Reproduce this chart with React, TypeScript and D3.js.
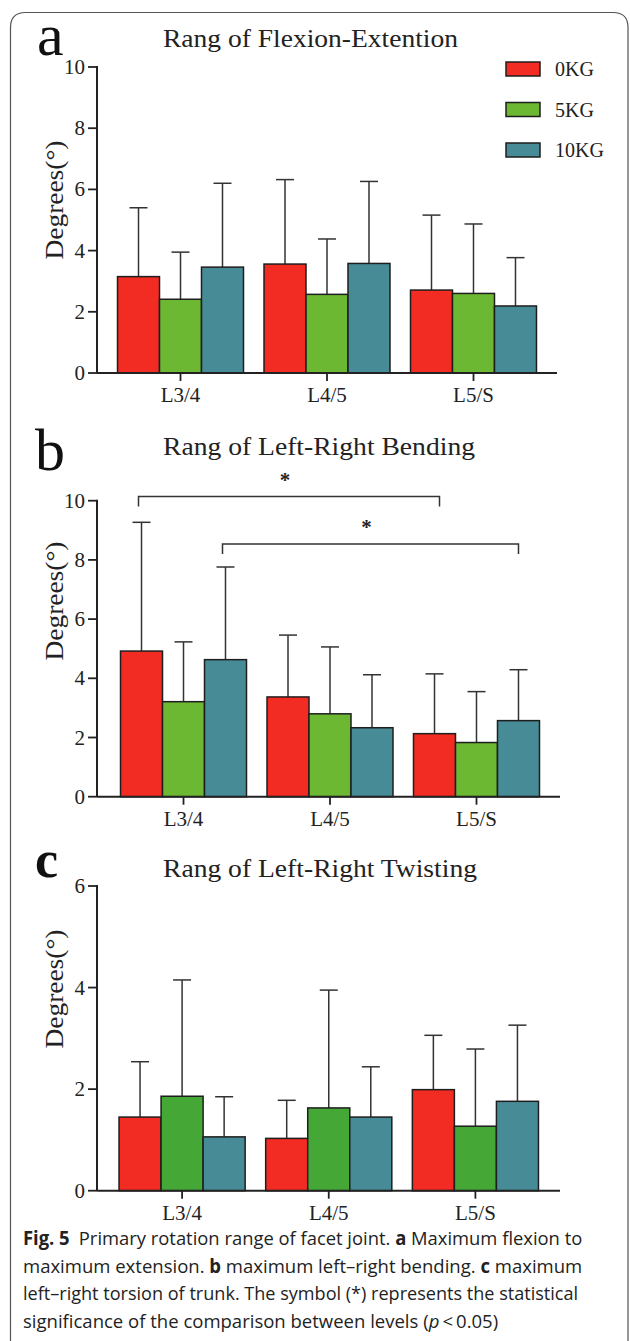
import * as d3 from "d3";
import { useLayoutEffect, useRef, useState } from "react";

const levels = ["L3/4", "L4/5", "L5/S"];
const loads = ["0KG", "5KG", "10KG"];

// means / SD per load (rows: 0KG, 5KG, 10KG), columns follow levels
const flexionMeans = [
  [3.15, 3.56, 2.71],
  [2.41, 2.57, 2.6],
  [3.46, 3.58, 2.19],
];
const flexionSD = [
  [2.25, 2.76, 2.45],
  [1.54, 1.81, 2.27],
  [2.74, 2.68, 1.58],
];
const bendingMeans = [
  [4.92, 3.37, 2.13],
  [3.21, 2.8, 1.83],
  [4.63, 2.33, 2.57],
];
const bendingSD = [
  [4.35, 2.09, 2.02],
  [2.02, 2.26, 1.72],
  [3.13, 1.79, 1.72],
];
const twistingMeans = [
  [1.45, 1.03, 1.99],
  [1.86, 1.63, 1.27],
  [1.06, 1.45, 1.76],
];
const twistingSD = [
  [1.09, 0.75, 1.07],
  [2.29, 2.32, 1.52],
  [0.79, 0.99, 1.5],
];

const ticks10 = [0, 2, 4, 6, 8, 10];
const ticks6 = [0, 2, 4, 6];
const titles = ["Rang of Flexion-Extention", "Rang of Left-Right Bending", "Rang of Left-Right Twisting"];
const bendingSig = [
  { from: ["L3/4", "0KG"], to: ["L5/S", "0KG"], level: 10.14 },
  { from: ["L3/4", "10KG"], to: ["L5/S", "10KG"], level: 8.54 },
];

const SERIF = "'Liberation Serif', 'Times New Roman', serif";
const SANS = "'Open Sans', 'Noto Sans', sans-serif";
const RED = "#f22b23";
const GREEN = "#6cb833";
const GREEN_C = "#45a836";
const TEAL = "#478b97";

const panels = [
  {
    letter: "a", letterSize: 60, letterBold: false, letterX: 37, letterY: 55,
    title: titles[0], titleY: 47, titleW: 295,
    top: 67, bottom: 373, axisEnd: 557, band: [97, 557],
    max: 10, ticks: ticks10, means: flexionMeans, sds: flexionSD,
    labelY: 200, legend: true, colors: [RED, GREEN, TEAL], sig: [],
  },
  {
    letter: "b", letterSize: 60, letterBold: false, letterX: 35, letterY: 470,
    title: titles[1], titleY: 455, titleW: 312,
    top: 500.7, bottom: 796.7, axisEnd: 560, band: [100, 560],
    max: 10, ticks: ticks10, means: bendingMeans, sds: bendingSD,
    labelY: 601, legend: false, colors: [RED, GREEN, TEAL], sig: bendingSig,
  },
  {
    letter: "c", letterSize: 52, letterBold: true, letterX: 35, letterY: 877,
    title: titles[2], titleY: 877, titleW: 314,
    top: 886, bottom: 1190.7, axisEnd: 560, band: [98.5, 559],
    max: 6, ticks: ticks6, means: twistingMeans, sds: twistingSD,
    labelY: 989, legend: false, colors: [RED, GREEN_C, TEAL], sig: [],
  },
];

function Panel({ cfg }) {
  const axisX = 97;
  const y = d3.scaleLinear().domain([0, cfg.max]).range([cfg.bottom, cfg.top]);
  const x0 = d3.scaleBand().domain(levels).range(cfg.band).paddingInner(0.14).paddingOuter(0.14);
  const x1 = d3.scaleBand().domain(loads).range([0, x0.bandwidth()]);
  const bw = x1.bandwidth();
  const center = (lv, ld) => x0(lv) + x1(ld) + bw / 2;

  return (
    <g>
      <text x={cfg.letterX} y={cfg.letterY} fontFamily={SERIF} fontSize={cfg.letterSize}
        fontWeight={cfg.letterBold ? "bold" : "normal"} fill="#111">{cfg.letter}</text>
      <text x={163} y={cfg.titleY} fontFamily={SERIF} fontSize={26} fill="#222"
        textLength={cfg.titleW} lengthAdjust="spacingAndGlyphs">{cfg.title}</text>
      <text transform={`translate(63,${cfg.labelY}) rotate(-90)`} textAnchor="middle" fontFamily={SERIF}
        fontSize={25} fill="#222" textLength={119} lengthAdjust="spacingAndGlyphs">Degrees(°)</text>

      {/* bars + error bars */}
      {loads.map((ld, si) =>
        levels.map((lv, li) => {
          const m = cfg.means[si][li];
          const sd = cfg.sds[si][li];
          const cx = center(lv, ld);
          return (
            <g key={`${ld}-${lv}`}>
              <line x1={cx} x2={cx} y1={y(m)} y2={y(m + sd)} stroke="#333" strokeWidth={1.5} />
              <line x1={cx - 9} x2={cx + 9} y1={y(m + sd)} y2={y(m + sd)} stroke="#333" strokeWidth={1.5} />
              <rect x={x0(lv) + x1(ld)} y={y(m)} width={bw} height={y(0) - y(m)}
                fill={cfg.colors[si]} stroke="#1e1e1e" strokeWidth={1.5} />
            </g>
          );
        })
      )}

      {/* y axis */}
      <line x1={axisX} x2={axisX} y1={cfg.top - 1} y2={cfg.bottom} stroke="#222" strokeWidth={2} />
      {cfg.ticks.map((t) => (
        <g key={t}>
          <line x1={axisX - 9} x2={axisX} y1={y(t)} y2={y(t)} stroke="#222" strokeWidth={1.8} />
          <text x={85} y={y(t) + 7} textAnchor="end" fontFamily={SERIF} fontSize={21} fill="#222">{t}</text>
        </g>
      ))}

      {/* x axis */}
      <line x1={axisX} x2={cfg.axisEnd} y1={cfg.bottom} y2={cfg.bottom} stroke="#222" strokeWidth={2} />
      {levels.map((lv) => {
        const cx = x0(lv) + x0.bandwidth() / 2;
        return (
          <g key={lv}>
            <line x1={cx} x2={cx} y1={cfg.bottom} y2={cfg.bottom + 8} stroke="#222" strokeWidth={1.8} />
            <text x={cx} y={cfg.bottom + 29} textAnchor="middle" fontFamily={SERIF} fontSize={21} fill="#222">{lv}</text>
          </g>
        );
      })}

      {/* significance brackets */}
      {cfg.sig.map((s, i) => {
        const xa = center(s.from[0], s.from[1]) - 3;
        const xb = center(s.to[0], s.to[1]) + (i === 0 ? 5 : 0);
        const yy = y(s.level);
        return (
          <g key={i}>
            <path d={`M${xa},${yy + 10}V${yy}H${xb}V${yy + 10}`} fill="none" stroke="#333" strokeWidth={1.5} />
            <text x={(xa + xb) / 2 - 4} y={yy - 10} textAnchor="middle" fontFamily={SERIF} fontSize={21}
              fontWeight="bold" fill="#222">*</text>
          </g>
        );
      })}

      {cfg.legend &&
        loads.map((ld, i) => (
          <g key={ld}>
            <rect x={506} y={62 + i * 40.5} width={34} height={14} fill={cfg.colors[i]} stroke="#1e1e1e" strokeWidth={1.5} />
            <text x={555} y={76 + i * 40.5} fontFamily={SERIF} fontSize={20} fill="#222">{ld}</text>
          </g>
        ))}
    </g>
  );
}

const captionLines = [
  [["Fig. 5", "b"], ["\u2002Primary rotation range of facet joint. ", ""], ["a", "b"], [" Maximum flexion to", ""]],
  [["maximum extension. ", ""], ["b", "b"], [" maximum left\u2013right bending. ", ""], ["c", "b"], [" maximum", ""]],
  [["left\u2013right torsion of trunk. The symbol (*) represents the statistical", ""]],
  [["significance of the comparison between levels (", ""], ["p", "i"], ["\u2009<\u20090.05)", ""]],
];
const captionEnds = [582, 582, 578, 498];

// caption line squeezed horizontally (as a whole) to the width it has in the figure
function CaptionLine({ parts, x, y, width }) {
  const ref = useRef(null);
  const [sx, setSx] = useState(0.88);
  useLayoutEffect(() => {
    if (!ref.current) return;
    const len = ref.current.getComputedTextLength();
    if (len > 0) setSx(width / len);
  }, [width]);
  return (
    <text ref={ref} transform={`translate(${x},${y}) scale(${sx},1)`} fontFamily={SANS} fontSize={19} fill="#222">
      {parts.map(([t, s], j) => (
        <tspan key={j} fontWeight={s === "b" ? "bold" : "normal"} fontStyle={s === "i" ? "italic" : "normal"}>{t}</tspan>
      ))}
    </text>
  );
}

export default function App() {
  const capX = 23;
  return (
    <svg width={630} height={1341} viewBox="0 0 630 1341"
      style={{ position: "absolute", left: 0, top: 0, background: "#fff" }}>
      <rect x={0} y={0} width={630} height={1341} fill="#fff" />
      <path d="M10.5,1345V27.5Q10.5,12.5 25.5,12.5H613Q628,12.5 628,27.5V1345" fill="none" stroke="#555" strokeWidth={1.2} />
      {panels.map((p) => (
        <Panel key={p.letter} cfg={p} />
      ))}
      {captionLines.map((line, i) => (
        <CaptionLine key={i} parts={line} x={capX} y={1245 + i * 27.5} width={captionEnds[i] - capX} />
      ))}
    </svg>
  );
}
